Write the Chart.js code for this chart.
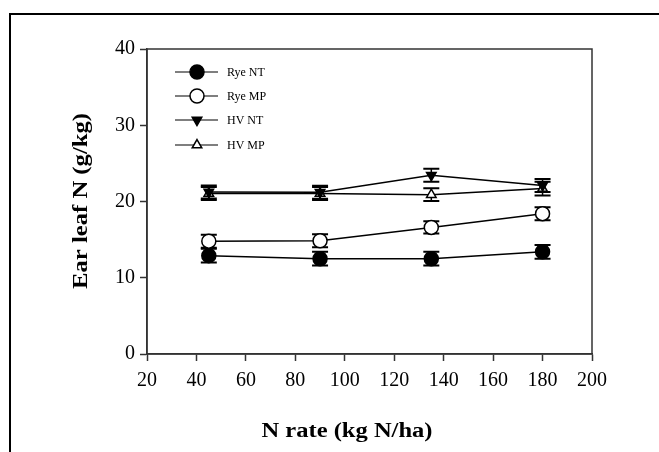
<!DOCTYPE html>
<html>
<head>
<meta charset="utf-8">
<script src="https://cdn.jsdelivr.net/npm/chart.js@4"></script>
<style>
  html, body { margin: 0; padding: 0; background: #fff; }
  #wrap { width: 659px; height: 452px; position: relative; }
</style>
</head>
<body>
<div id="wrap"><canvas id="chart"></canvas></div>
<script>
// N rate (kg N/ha)
const nRate = [45, 90, 135, 180];

// ear leaf N (g/kg) and error bar half-widths
const ryeNT = [12.9, 12.5, 12.5, 13.4];
const ryeNTErr = [0.9, 0.9, 0.9, 0.9];
const ryeMP = [14.8, 14.85, 16.6, 18.4];
const ryeMPErr = [0.85, 0.85, 0.8, 0.85];
const hvNT = [21.25, 21.2, 23.45, 22.1];
const hvNTErr = [0.85, 0.85, 0.85, 0.85];
const hvMP = [21.05, 21.05, 20.9, 21.7];
const hvMPErr = [0.85, 0.85, 0.85, 0.9];

const seriesNames = ['Rye NT', 'Rye MP', 'HV NT', 'HV MP'];
const xTicks = [20, 40, 60, 80, 100, 120, 140, 160, 180, 200];
const yTicks = [0, 10, 20, 30, 40];

const FONT = '"Liberation Serif", "Times New Roman", serif';

function pts(ys) {
  return nRate.map((x, i) => ({ x: x, y: ys[i] }));
}

const errs = [ryeNTErr, ryeMPErr, hvNTErr, hvMPErr];

// error bars, drawn under the markers
const errorBars = {
  id: 'errorBars',
  beforeDatasetsDraw(chart) {
    const ctx = chart.ctx;
    const xs = chart.scales.x, ys = chart.scales.y;
    ctx.save();
    ctx.strokeStyle = '#000';
    chart.data.datasets.forEach((ds, d) => {
      ds.data.forEach((p, i) => {
        const e = errs[d][i];
        const px = xs.getPixelForValue(p.x);
        const top = ys.getPixelForValue(p.y + e);
        const bot = ys.getPixelForValue(p.y - e);
        ctx.lineWidth = 1.5;
        ctx.beginPath();
        ctx.moveTo(px, top); ctx.lineTo(px, bot);
        ctx.stroke();
        ctx.lineWidth = 2;
        ctx.beginPath();
        ctx.moveTo(px - 8, top); ctx.lineTo(px + 8, top);
        ctx.moveTo(px - 8, bot); ctx.lineTo(px + 8, bot);
        ctx.stroke();
      });
    });
    ctx.restore();
  }
};

function drawMarker(ctx, ds, x, y) {
  ctx.save();
  ctx.fillStyle = ds.pointBackgroundColor;
  ctx.strokeStyle = ds.pointBorderColor;
  ctx.lineWidth = ds.pointBorderWidth;
  Chart.helpers.drawPoint(ctx, {
    pointStyle: ds.pointStyle,
    radius: ds.pointRadius,
    rotation: ds.pointRotation || 0,
    borderWidth: ds.pointBorderWidth
  }, x, y);
  ctx.restore();
}

// text stretched sideways to the width the reference font takes
function wideText(ctx, txt, x, y, width) {
  const w = ctx.measureText(txt).width;
  ctx.save();
  ctx.translate(x, y);
  ctx.scale(width / w, 1);
  ctx.fillText(txt, 0, 0);
  ctx.restore();
}

// frame, plot box, axis titles and legend
const decor = {
  id: 'decor',
  afterDraw(chart) {
    const ctx = chart.ctx;
    const a = chart.chartArea;
    ctx.save();
    // outer frame
    ctx.strokeStyle = '#000';
    ctx.lineWidth = 2;
    ctx.beginPath();
    ctx.moveTo(10, 452); ctx.lineTo(10, 14); ctx.lineTo(659, 14);
    ctx.stroke();
    // plot box
    ctx.strokeStyle = '#333';
    ctx.lineWidth = 1.5;
    ctx.strokeRect(a.left, a.top, a.right - a.left, a.bottom - a.top);

    // axis titles
    ctx.fillStyle = '#000';
    ctx.font = 'bold 20px ' + FONT;
    ctx.textAlign = 'center';
    ctx.textBaseline = 'middle';
    wideText(ctx, 'N rate (kg N/ha)', 347, 432, 171);
    ctx.save();
    ctx.translate(82, 201);
    ctx.rotate(-Math.PI / 2);
    wideText(ctx, 'Ear leaf N (g/kg)', 0, 0, 176);
    ctx.restore();

    // legend
    const rows = [72, 96, 120, 145];
    ctx.font = '12px ' + FONT;
    ctx.textAlign = 'left';
    chart.data.datasets.forEach((ds, i) => {
      const y = rows[i];
      ctx.strokeStyle = '#000';
      ctx.lineWidth = 1.2;
      ctx.beginPath();
      ctx.moveTo(175, y); ctx.lineTo(218, y);
      ctx.stroke();
      drawMarker(ctx, ds, 197, y);
      ctx.fillStyle = '#000';
      ctx.fillText(ds.label, 227, y + 1);
    });
    ctx.restore();
  }
};

function makeSet(label, ys, style, fill, radius, rot) {
  return {
    label: label,
    data: pts(ys),
    borderColor: '#000',
    borderWidth: 1.5,
    pointStyle: style,
    pointRadius: radius,
    pointHoverRadius: radius,
    pointRotation: rot,
    pointBackgroundColor: fill,
    pointBorderColor: '#000',
    pointBorderWidth: 1.5,
    fill: false,
    tension: 0
  };
}

new Chart(document.getElementById('chart'), {
  type: 'line',
  data: {
    datasets: [
      makeSet(seriesNames[0], ryeNT, 'circle', '#000', 7, 0),
      makeSet(seriesNames[1], ryeMP, 'circle', '#fff', 7, 0),
      makeSet(seriesNames[2], hvNT, 'triangle', '#000', 5.5, 180),
      makeSet(seriesNames[3], hvMP, 'triangle', '#fff', 5.5, 0)
    ]
  },
  options: {
    responsive: true,
    maintainAspectRatio: false,
    animation: false,
    events: [],
    layout: { padding: { top: 49, right: 67, left: 0, bottom: 0 } },
    plugins: { legend: { display: false }, tooltip: { enabled: false } },
    scales: {
      x: {
        type: 'linear',
        min: 20, max: 200,
        afterFit: s => { s.height = 98; },
        afterBuildTicks: s => { s.ticks = xTicks.map(v => ({ value: v })); },
        grid: { drawOnChartArea: false, tickLength: 7, color: '#333', tickWidth: 1.5 },
        border: { color: '#333', width: 1.5 },
        ticks: { color: '#000', padding: 8, maxRotation: 0, font: { family: FONT, size: 20 } }
      },
      y: {
        min: 0, max: 40,
        afterFit: s => { s.width = 147; },
        afterBuildTicks: s => { s.ticks = yTicks.map(v => ({ value: v })); },
        grid: { drawOnChartArea: false, tickLength: 7, color: '#333', tickWidth: 1.5 },
        border: { color: '#333', width: 1.5 },
        ticks: { color: '#000', padding: 5, font: { family: FONT, size: 20 } }
      }
    }
  },
  plugins: [errorBars, decor]
});
</script>
</body>
</html>
